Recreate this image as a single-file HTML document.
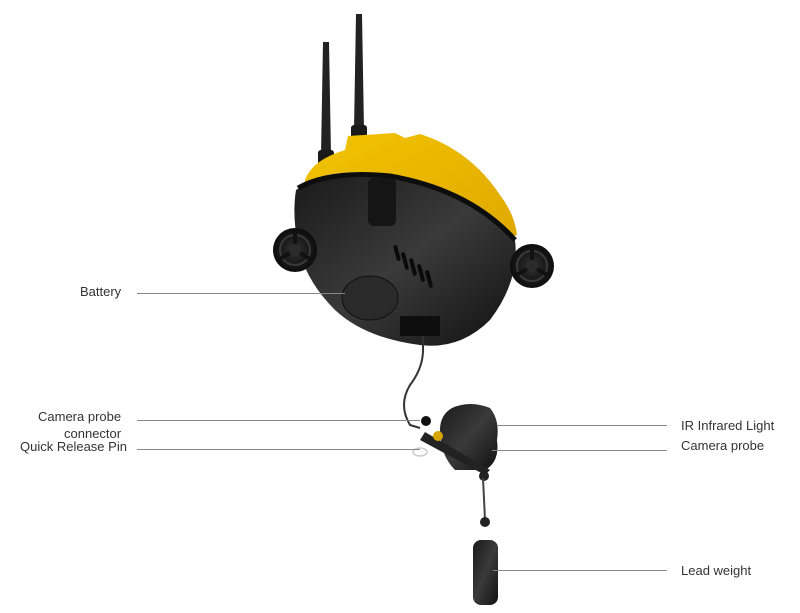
<!DOCTYPE html>
<html><head><style>
body{margin:0;background:#fff;}
.w{position:relative;width:800px;height:613px;overflow:hidden;font-family:"Liberation Sans",sans-serif;font-size:13px;color:#333;}
.t{position:absolute;white-space:nowrap;line-height:14px;}
</style></head><body><div class="w">
<svg width="800" height="613" style="position:absolute;left:0;top:0">
<defs>
<linearGradient id="bk" x1="0" y1="0" x2="1" y2="1"><stop offset="0" stop-color="#1a1a1a"/><stop offset="0.5" stop-color="#3a3a3a"/><stop offset="1" stop-color="#111"/></linearGradient>
<linearGradient id="yl" x1="0" y1="0" x2="1" y2="1"><stop offset="0" stop-color="#f2c400"/><stop offset="1" stop-color="#e0a800"/></linearGradient>
<radialGradient id="th" cx="0.5" cy="0.5" r="0.5"><stop offset="0" stop-color="#333"/><stop offset="0.6" stop-color="#1a1a1a"/><stop offset="1" stop-color="#0d0d0d"/></radialGradient>
</defs>
<!-- antennas -->
<path d="M323 42 L329 42 L331 155 L321 155 Z" fill="#222"/>
<rect x="318" y="150" width="16" height="18" rx="3" fill="#1a1a1a"/>
<path d="M356 14 L362 14 L364 130 L354 130 Z" fill="#222"/>
<rect x="351" y="125" width="16" height="18" rx="3" fill="#1a1a1a"/>
<!-- yellow shell -->
<path d="M305 180 Q312 160 345 150 L348 136 L395 133 L405 138 L420 134 Q470 150 500 195 Q515 215 517 235 L500 240 Q440 185 360 172 Q320 172 305 185 Z" fill="url(#yl)"/>
<!-- black body -->
<path d="M296 190 Q330 170 390 176 Q470 190 515 240 Q520 280 490 320 Q460 350 420 345 Q365 338 335 310 Q305 280 298 245 Q292 215 296 190 Z" fill="url(#bk)"/>
<path d="M298 188 Q330 170 390 176 Q470 190 515 240" fill="none" stroke="#0d0d0d" stroke-width="5"/>
<!-- top bracket -->
<rect x="368" y="178" width="28" height="48" rx="6" fill="#151515"/>
<!-- vents -->
<g fill="#0a0a0a"><rect x="395" y="245" width="4" height="16" rx="2" transform="rotate(-15 397 253)"/><rect x="403" y="252" width="4" height="18" rx="2" transform="rotate(-15 405 261)"/><rect x="411" y="258" width="4" height="18" rx="2" transform="rotate(-15 413 267)"/><rect x="419" y="264" width="4" height="18" rx="2" transform="rotate(-15 421 273)"/><rect x="427" y="270" width="4" height="18" rx="2" transform="rotate(-15 429 279)"/></g>
<!-- battery cap -->
<ellipse cx="370" cy="298" rx="28" ry="22" fill="#2a2a2a" stroke="#111"/>
<rect x="400" y="316" width="40" height="20" fill="#0e0e0e"/>
<!-- thrusters -->
<circle cx="295" cy="250" r="22" fill="url(#th)"/>
<circle cx="295" cy="250" r="15" fill="none" stroke="#3a3a3a" stroke-width="2"/>
<g stroke="#111" stroke-width="4"><line x1="295" y1="250" x2="295" y2="230"/><line x1="295" y1="250" x2="278" y2="260"/><line x1="295" y1="250" x2="312" y2="260"/></g>
<circle cx="295" cy="250" r="6" fill="#2b2b2b"/>
<circle cx="532" cy="266" r="22" fill="url(#th)"/>
<circle cx="532" cy="266" r="15" fill="none" stroke="#3a3a3a" stroke-width="2"/>
<g stroke="#111" stroke-width="4"><line x1="532" y1="266" x2="532" y2="246"/><line x1="532" y1="266" x2="515" y2="276"/><line x1="532" y1="266" x2="549" y2="276"/></g>
<circle cx="532" cy="266" r="6" fill="#2b2b2b"/>
<!-- cable -->
<path d="M423 336 L423 350 Q423 368 410 385 Q398 405 410 425 L420 428" fill="none" stroke="#333" stroke-width="2"/>
<!-- camera probe -->
<path d="M452 408 Q470 400 490 408 Q500 420 497 440 Q500 462 485 470 L455 470 Q440 455 440 430 Q440 415 452 408Z" fill="url(#bk)"/>
<path d="M420 440 L485 475 L490 470 L425 432 Z" fill="#222"/>
<circle cx="426" cy="421" r="5" fill="#111"/>
<circle cx="438" cy="436" r="5" fill="#d6a500"/>
<ellipse cx="420" cy="452" rx="7" ry="4" fill="none" stroke="#ccc" stroke-width="1.5"/>
<circle cx="484" cy="476" r="5" fill="#222"/>
<line x1="483" y1="478" x2="485" y2="520" stroke="#444" stroke-width="2"/>
<circle cx="485" cy="522" r="5" fill="#222"/>
<rect x="473" y="540" width="25" height="65" rx="8" fill="url(#bk)"/>
<!-- leader lines -->
<g stroke="#888" stroke-width="1">
<line x1="137" y1="293.5" x2="345" y2="293.5"/>
<line x1="137" y1="420.5" x2="420" y2="420.5"/>
<line x1="137" y1="449.5" x2="420" y2="449.5"/>
<line x1="497" y1="425.5" x2="667" y2="425.5"/>
<line x1="492" y1="450.5" x2="667" y2="450.5"/>
<line x1="493" y1="570.5" x2="667" y2="570.5"/>
</g>
</svg>
<div class="t" style="left:80px;top:285px">Battery</div>
<div class="t" style="left:38px;top:410px">Camera probe</div>
<div class="t" style="left:64px;top:427px">connector</div>
<div class="t" style="left:20px;top:440px">Quick Release Pin</div>
<div class="t" style="left:681px;top:419px">IR Infrared Light</div>
<div class="t" style="left:681px;top:439px">Camera probe</div>
<div class="t" style="left:681px;top:564px">Lead weight</div>
</div></body></html>
